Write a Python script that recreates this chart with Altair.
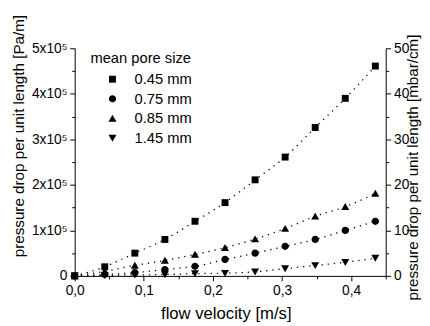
import altair as alt
import pandas as pd

velocity = [0.0, 0.0435, 0.087, 0.1305, 0.174, 0.2175, 0.261, 0.3045, 0.348, 0.3915, 0.435]
pore_sizes = ["0.45 mm", "0.75 mm", "0.85 mm", "1.45 mm"]
dp_045 = [0, 20000, 50000, 80000, 120000, 161000, 211000, 261000, 326000, 390000, 461000]
dp_075 = [0, 3000, 7000, 14000, 21000, 36000, 50000, 65000, 80000, 100000, 120000]
dp_085 = [0, 10000, 23000, 34000, 47000, 62000, 81000, 104000, 131000, 152000, 181000]
dp_145 = [0, 1000, 2000, 3000, 5000, 6000, 9000, 16000, 23000, 30000, 39000]
shapes = [
    "M-0.95,-0.95L0.95,-0.95L0.95,0.95L-0.95,0.95Z",
    "M-1,0A1,1 0 1,0 1,0A1,1 0 1,0 -1,0Z",
    "M0,-1L1.1,0.9L-1.1,0.9Z",
    "M0,1L1.1,-0.9L-1.1,-0.9Z",
]

x_ticks = [0.0, 0.05, 0.1, 0.15, 0.2, 0.25, 0.3, 0.35, 0.4, 0.45]
y_ticks = [0, 50000, 100000, 150000, 200000, 250000, 300000, 350000, 400000, 450000, 500000]
y2_ticks = [0, 5, 10, 15, 20, 25, 30, 35, 40, 45, 50]

rows = []
for name, series in zip(pore_sizes, [dp_045, dp_075, dp_085, dp_145]):
    for v, p in zip(velocity, series):
        rows.append({"v": v, "p": p, "pm": p / 10000.0, "size": name})
df = pd.DataFrame(rows)

FONT = "Liberation Sans"

x_axis = alt.Axis(
    values=x_ticks,
    title="flow velocity [m/s]",
    labelExpr="abs(datum.value*10 - round(datum.value*10)) < 0.001 ? replace(format(datum.value, '.1f'), '.', ',') : ''",
    tickSize={"condition": {"test": "abs(datum.value*10 - round(datum.value*10)) > 0.001", "value": 3}, "value": 5},
    labelFlush=False,
    labelOverlap=False,
    grid=False,
    titleX=154,
    titleY=43,
    titleBaseline="alphabetic",
    titleAnchor="start",
    titleAlign="center",
    titleFontSize=17,
)

y_axis = alt.Axis(
    values=y_ticks,
    title="pressure drop per unit length [Pa/m]",
    labelExpr="datum.value == 0 ? '0' : (datum.value % 100000 == 0 ? format(datum.value/100000, 'd') + 'x10\u2075' : '')",
    tickSize={"condition": {"test": "datum.value % 100000 != 0", "value": 3}, "value": 5},
    labelOverlap=False,
    grid=False,
    titleX=-57,
    titleY=89,
    titleAngle=270,
    titleAlign="center",
    titleBaseline="middle",
    titleFontSize=15.5,
)

y2_axis = alt.Axis(
    values=y2_ticks,
    orient="right",
    title="pressure drop per unit length [mbar/cm]",
    labelExpr="datum.value % 10 == 0 ? format(datum.value, 'd') : ''",
    tickSize={"condition": {"test": "datum.value % 10 != 0", "value": 3}, "value": 5},
    labelOverlap=False,
    grid=False,
    titleX=27,
    titleY=121,
    titleAngle=270,
    titleAlign="center",
    titleBaseline="middle",
    titleFontSize=15.5,
)

xenc = alt.X("v:Q", scale=alt.Scale(domain=[0, 0.45], nice=False, zero=False), axis=x_axis)
yenc = alt.Y("p:Q", scale=alt.Scale(domain=[0, 500000], nice=False), axis=y_axis)

base = alt.Chart(df)

lines = base.mark_line(
    color="black", strokeDash=[1.3, 5], strokeWidth=1.3, interpolate="monotone"
).encode(x=xenc, y=yenc, detail="size:N")

points = base.mark_point(filled=True, color="black", opacity=1, size=55).encode(
    x=xenc,
    y=yenc,
    shape=alt.Shape(
        "size:N",
        scale=alt.Scale(domain=pore_sizes, range=shapes),
        legend=alt.Legend(title="mean pore size", orient="none", legendX=16, legendY=3),
    ),
)

right = base.mark_point(opacity=0).encode(
    x=xenc,
    y=alt.Y("pm:Q", scale=alt.Scale(domain=[0, 50], nice=False), axis=y2_axis),
)

chart = (
    alt.layer(alt.layer(lines, points), right)
    .resolve_scale(y="independent")
    .properties(
        width=317,
        height=232,
        autosize=alt.AutoSizeParams(type="none"),
        padding={"left": 68, "top": 38, "right": 37, "bottom": 48},
        background="white",
    )
    .configure_view(stroke=None)
    .configure_axis(
        labelFont=FONT,
        titleFont=FONT,
        labelFontSize=14,
        labelColor="black",
        titleColor="black",
        titleFontWeight="normal",
        domainColor="black",
        tickColor="black",
        domainWidth=1,
        tickWidth=1,
        labelPadding=3,
    )
    .configure_legend(
        titleFont=FONT,
        labelFont=FONT,
        titleFontSize=15,
        labelFontSize=15,
        titleFontWeight="normal",
        titleColor="black",
        labelColor="black",
        symbolOffset=15,
        labelOffset=15,
        rowPadding=4,
        titlePadding=6,
        padding=0,
        symbolSize=55,
        symbolFillColor="black",
        symbolStrokeColor="black",
    )
)

chart.save("out.html", embed_options={"renderer": "svg", "actions": False})
